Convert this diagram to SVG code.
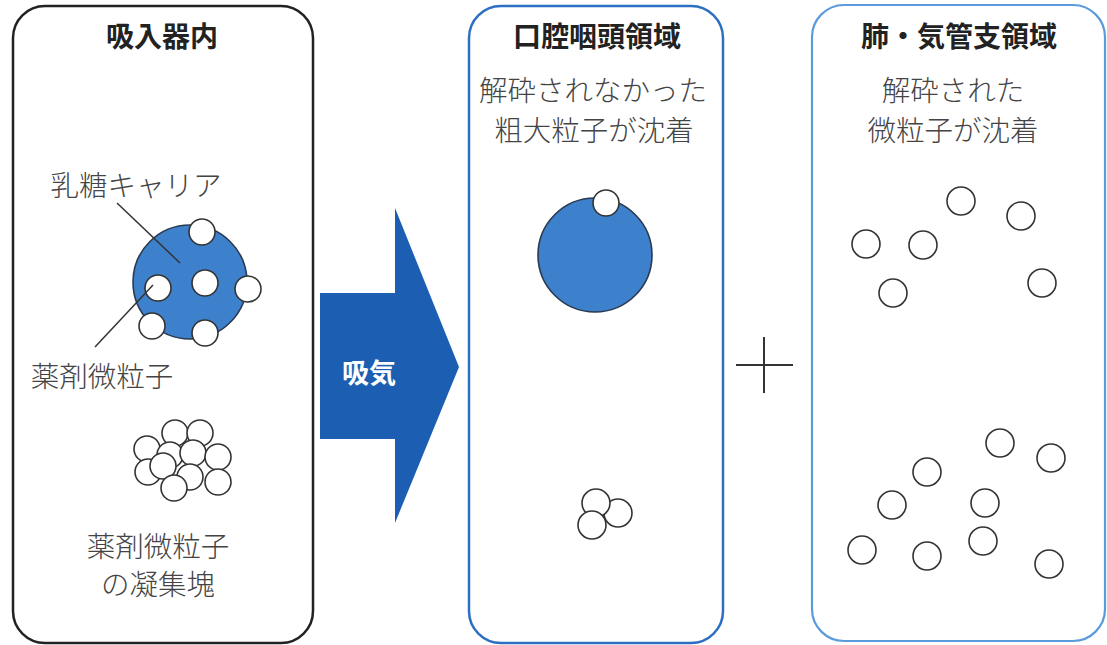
<svg xmlns="http://www.w3.org/2000/svg" width="1107" height="645" viewBox="0 0 1107 645">
<style>
.t{font-family:"Noto Sans CJK JP","Noto Sans CJK SC",sans-serif;fill:#444;font-size:28.5px;font-weight:300;text-anchor:middle}
.h{font-family:"Noto Sans CJK JP","Noto Sans CJK SC",sans-serif;fill:#222;font-size:28px;font-weight:bold;text-anchor:middle}
.p{fill:#fff;stroke:#333;stroke-width:1.6}
.big{fill:#3d80cc;stroke:#2a3a50;stroke-width:1.6}
.lead{stroke:#333;stroke-width:1.5;fill:none}
</style>
<rect width="1107" height="645" fill="#fff"/>
<g id="panel-inhaler">
<rect x="13" y="6" width="300" height="637" rx="32" fill="#fff" stroke="#222" stroke-width="2.5"/>
<text class="h" x="162" y="47">吸入器内</text>
<text class="t" x="136" y="196">乳糖キャリア</text>
<circle class="big" cx="190" cy="282" r="57"/>
<circle class="p" cx="202" cy="232" r="13"/>
<circle class="p" cx="205" cy="283" r="13"/>
<circle class="p" cx="248" cy="289" r="13"/>
<circle class="p" cx="158" cy="288" r="13"/>
<circle class="p" cx="152" cy="326" r="13"/>
<circle class="p" cx="205" cy="333" r="13"/>
<line class="lead" x1="117" y1="203" x2="180" y2="263"/>
<line class="lead" x1="153" y1="285" x2="95" y2="347"/>
<text class="t" x="102" y="387">薬剤微粒子</text>
<circle class="p" cx="147" cy="449" r="13"/>
<circle class="p" cx="175" cy="433" r="13"/>
<circle class="p" cx="200" cy="433" r="13"/>
<circle class="p" cx="170" cy="455" r="13"/>
<circle class="p" cx="148" cy="472" r="13"/>
<circle class="p" cx="193" cy="453" r="13"/>
<circle class="p" cx="218" cy="457" r="13"/>
<circle class="p" cx="163" cy="466" r="13"/>
<circle class="p" cx="190" cy="477" r="13"/>
<circle class="p" cx="218" cy="482" r="13"/>
<circle class="p" cx="174" cy="488" r="13"/>
<text class="t" x="158" y="557">薬剤微粒子</text>
<text class="t" x="158" y="595">の凝集塊</text>
</g>
<g id="connectors">
<polygon points="320,293 395,293 395,208 459,367 395,523 395,439 320,439" fill="#1c5fb2"/>
<text x="369" y="383" font-family="Noto Sans CJK JP,sans-serif" font-size="27" font-weight="bold" fill="#fff" text-anchor="middle">吸気</text>
<line x1="736" y1="365" x2="793" y2="365" stroke="#333" stroke-width="2"/>
<line x1="764" y1="337" x2="764" y2="393" stroke="#333" stroke-width="2"/>
</g>
<g id="panel-oral">
<rect x="469" y="6" width="254" height="637" rx="32" fill="#fff" stroke="#2d6fc2" stroke-width="2.5"/>
<text class="h" x="597" y="47">口腔咽頭領域</text>
<text class="t" x="593" y="101">解砕されなかった</text>
<text class="t" x="594" y="141">粗大粒子が沈着</text>
<circle class="big" cx="595" cy="255" r="57"/>
<circle class="p" cx="606" cy="203" r="13"/>
<circle class="p" cx="618" cy="513" r="14"/>
<circle class="p" cx="596" cy="503" r="14"/>
<circle class="p" cx="592" cy="525" r="14"/>
</g>
<g id="panel-lung">
<rect x="812" y="5" width="293" height="636" rx="32" fill="#fff" stroke="#5b9bdc" stroke-width="2.2"/>
<text class="h" x="959" y="47">肺・気管支領域</text>
<text class="t" x="953" y="101">解砕された</text>
<text class="t" x="953" y="141">微粒子が沈着</text>
<circle class="p" cx="961" cy="201" r="14"/>
<circle class="p" cx="1021" cy="216" r="14"/>
<circle class="p" cx="866" cy="244" r="14"/>
<circle class="p" cx="923" cy="245" r="14"/>
<circle class="p" cx="893" cy="293" r="14"/>
<circle class="p" cx="1042" cy="283" r="14"/>
<circle class="p" cx="1000" cy="443" r="14"/>
<circle class="p" cx="1051" cy="458" r="14"/>
<circle class="p" cx="927" cy="472" r="14"/>
<circle class="p" cx="892" cy="505" r="14"/>
<circle class="p" cx="985" cy="503" r="14"/>
<circle class="p" cx="862" cy="550" r="14"/>
<circle class="p" cx="927" cy="556" r="14"/>
<circle class="p" cx="983" cy="541" r="14"/>
<circle class="p" cx="1049" cy="564" r="14"/>
</g>
</svg>
